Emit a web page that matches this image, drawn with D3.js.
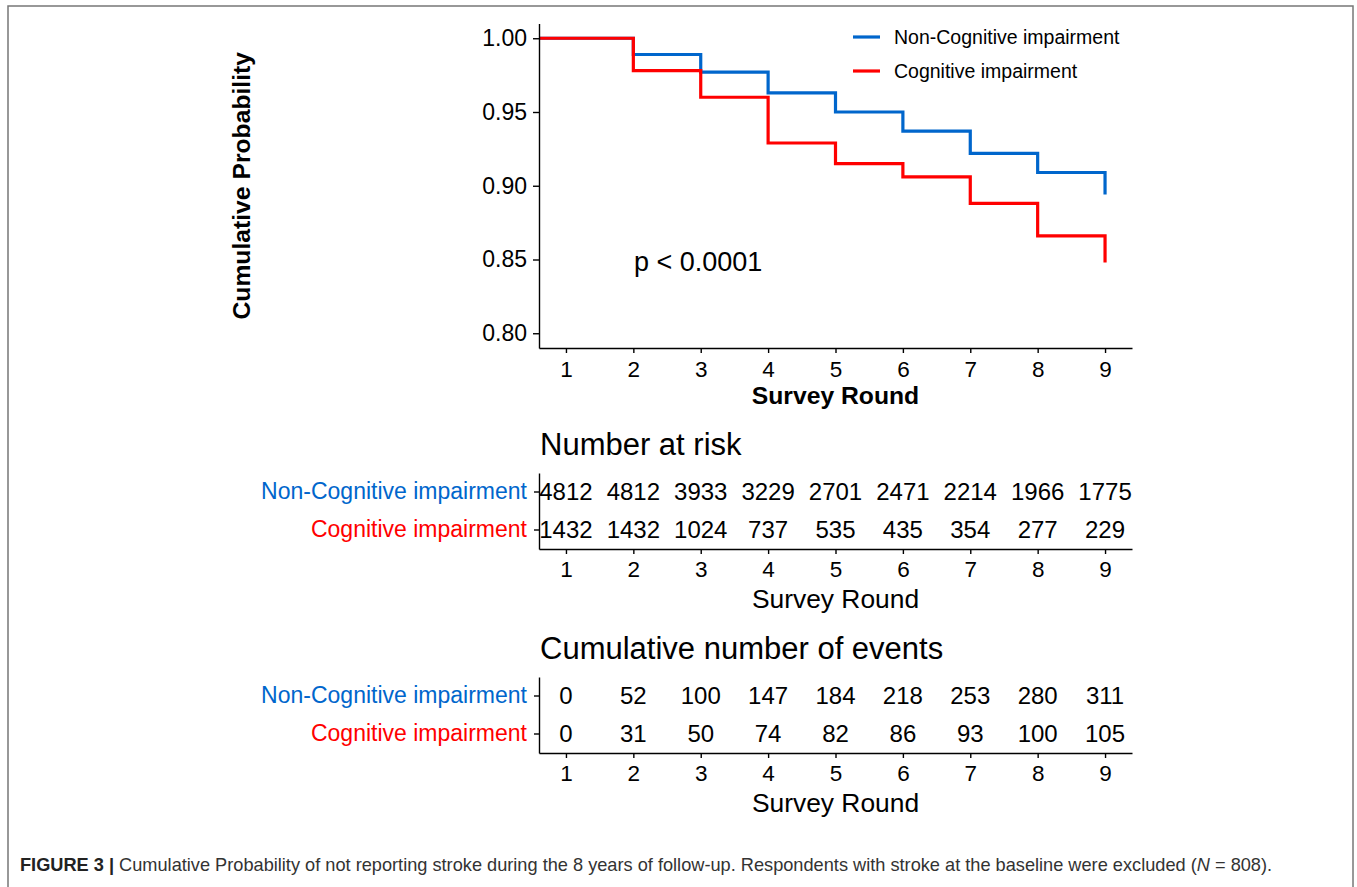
<!DOCTYPE html>
<html>
<head>
<meta charset="utf-8">
<script src="https://cdn.jsdelivr.net/npm/d3@7"></script>
<style>
    body { margin: 0; background: #fff; }
    svg text { font-family: "Liberation Sans", Arial, Helvetica, sans-serif; }
</style>
</head>
<body>
<div id="chart"></div>
<script>
    // survey rounds and groups
    const rounds = [1, 2, 3, 4, 5, 6, 7, 8, 9];
    const groups = ['Non-Cognitive impairment', 'Cognitive impairment'];

    // cumulative probability of not reporting stroke
    const survNonCog = [1.000, 0.989, 0.977, 0.963, 0.950, 0.937, 0.922, 0.909, 0.894];
    const survCog = [1.000, 0.978, 0.960, 0.929, 0.915, 0.906, 0.888, 0.866, 0.848];

    // risk tables
    const atRiskNonCog = [4812, 4812, 3933, 3229, 2701, 2471, 2214, 1966, 1775];
    const atRiskCog = [1432, 1432, 1024, 737, 535, 435, 354, 277, 229];
    const eventsNonCog = [0, 52, 100, 147, 184, 218, 253, 280, 311];
    const eventsCog = [0, 31, 50, 74, 82, 86, 93, 100, 105];

    const yTicks = [0.80, 0.85, 0.90, 0.95, 1.00];
    const yLimits = [0.80, 1.00];
    const pValue = 'p < 0.0001';

    const colors = { 'Non-Cognitive impairment': '#0066cc', 'Cognitive impairment': '#ff0000' };

    const width = 1357, height = 887;
    const svg = d3.select('#chart').append('svg')
        .attr('width', width)
        .attr('height', height);

    // outer frame of the figure
    svg.append('rect')
        .attr('x', 8).attr('y', 6)
        .attr('width', 1345).attr('height', 900)
        .attr('fill', 'none')
        .attr('stroke', '#777')
        .attr('stroke-width', 1.5);

    // ggplot style 5% expansion
    function expand(lim) {
        const pad = (lim[1] - lim[0]) * 0.05;
        return [lim[0] - pad, lim[1] + pad];
    }

    const x = d3.scaleLinear().domain(expand(d3.extent(rounds))).range([539, 1132]);
    const y = d3.scaleLinear().domain(expand(yLimits)).range([348, 23.5]);

    function styleAxis(g, size) {
        g.select('.domain').attr('stroke', '#000').attr('stroke-width', 1.4);
        g.selectAll('.tick line').attr('stroke', '#000').attr('stroke-width', 1.4);
        g.selectAll('.tick text').attr('fill', '#000').style('font-size', size + 'px');
    }

    // --- survival curves ---
    const main = svg.append('g').classed('km-plot', true);

    const line = d3.line()
        .x(d => x(d[0]))
        .y(d => y(d[1]))
        .curve(d3.curveStepAfter);

    const series = [
        { name: groups[0], values: survNonCog },
        { name: groups[1], values: survCog }
    ];

    series.forEach(s => {
        const pts = [[x.domain()[0], s.values[0]]].concat(rounds.map((r, i) => [r, s.values[i]]));
        main.append('path')
            .datum(pts)
            .attr('d', line)
            .attr('fill', 'none')
            .attr('stroke', colors[s.name])
            .attr('stroke-width', 3.2)
            .attr('stroke-linejoin', 'miter');
    });

    main.append('g')
        .attr('transform', `translate(${x.range()[0]},0)`)
        .call(d3.axisLeft(y).tickValues(yTicks).tickFormat(d3.format('.2f')).tickSize(6).tickPadding(6).tickSizeOuter(0))
        .call(g => styleAxis(g, 23));

    main.append('g')
        .attr('transform', `translate(0,${y.range()[0]})`)
        .call(d3.axisBottom(x).tickValues(rounds).tickFormat(d3.format('d')).tickSize(5).tickPadding(8).tickSizeOuter(0))
        .call(g => styleAxis(g, 22.5));

    main.append('text')
        .attr('x', d3.mean(x.range()))
        .attr('y', 404)
        .attr('text-anchor', 'middle')
        .style('font-size', '24.7px')
        .style('font-weight', 'bold')
        .text('Survey Round');

    main.append('text')
        .attr('transform', `translate(241,${d3.mean(y.range())}) rotate(-90)`)
        .attr('text-anchor', 'middle')
        .attr('dy', '0.35em')
        .style('font-size', '24.7px')
        .style('font-weight', 'bold')
        .text('Cumulative Probability');

    main.append('text')
        .attr('x', 634)
        .attr('y', 262)
        .attr('dy', '0.35em')
        .style('font-size', '27px')
        .text(pValue);

    // legend
    const legend = main.append('g').attr('transform', 'translate(853,37)');
    groups.forEach((gname, i) => {
        const row = legend.append('g').attr('transform', `translate(0,${i * 34})`);
        row.append('line')
            .attr('x1', 0).attr('x2', 27)
            .attr('stroke', colors[gname])
            .attr('stroke-width', 3.2);
        row.append('text')
            .attr('x', 41)
            .attr('dy', '0.35em')
            .style('font-size', '19.5px')
            .text(gname);
    });

    // --- tables below the plot ---
    function drawTable(offset, title, rows) {
        const t = svg.append('g').attr('transform', `translate(0,${offset})`);
        const band = d3.scaleBand().domain(groups).range([473, 549]);

        t.append('text')
            .attr('x', 540)
            .attr('y', 455)
            .style('font-size', '31px')
            .text(title);

        groups.forEach((gname, gi) => {
            t.selectAll(null)
                .data(rows[gi])
                .join('text')
                .attr('x', (d, i) => x(rounds[i]))
                .attr('y', band(gname) + band.bandwidth() / 2)
                .attr('dy', '0.35em')
                .attr('text-anchor', 'middle')
                .style('font-size', '24px')
                .text(d => d);
        });

        t.append('g')
            .attr('transform', `translate(${x.range()[0]},0)`)
            .call(d3.axisLeft(band).tickSize(5).tickPadding(7).tickSizeOuter(0))
            .call(g => styleAxis(g, 23))
            .call(g => g.selectAll('.tick text').attr('fill', d => colors[d]));

        t.append('g')
            .attr('transform', `translate(0,${band.range()[1]})`)
            .call(d3.axisBottom(x).tickValues(rounds).tickFormat(d3.format('d')).tickSize(5).tickPadding(7).tickSizeOuter(0))
            .call(g => styleAxis(g, 22.5));

        t.append('text')
            .attr('x', d3.mean(x.range()))
            .attr('y', 608)
            .attr('text-anchor', 'middle')
            .style('font-size', '26.4px')
            .text('Survey Round');
    }

    drawTable(0, 'Number at risk', [atRiskNonCog, atRiskCog]);
    drawTable(204, 'Cumulative number of events', [eventsNonCog, eventsCog]);

    // caption
    const cap = svg.append('text')
        .attr('x', 20)
        .attr('y', 871)
        .attr('fill', '#333')
        .style('font-size', '18.2px');
    cap.append('tspan').style('font-weight', 'bold').attr('fill', '#222').text('FIGURE 3 | ');
    cap.append('tspan').text('Cumulative Probability of not reporting stroke during the 8 years of follow-up. Respondents with stroke at the baseline were excluded (');
    cap.append('tspan').style('font-style', 'italic').text('N');
    cap.append('tspan').text(' = 808).');
</script>
</body>
</html>
